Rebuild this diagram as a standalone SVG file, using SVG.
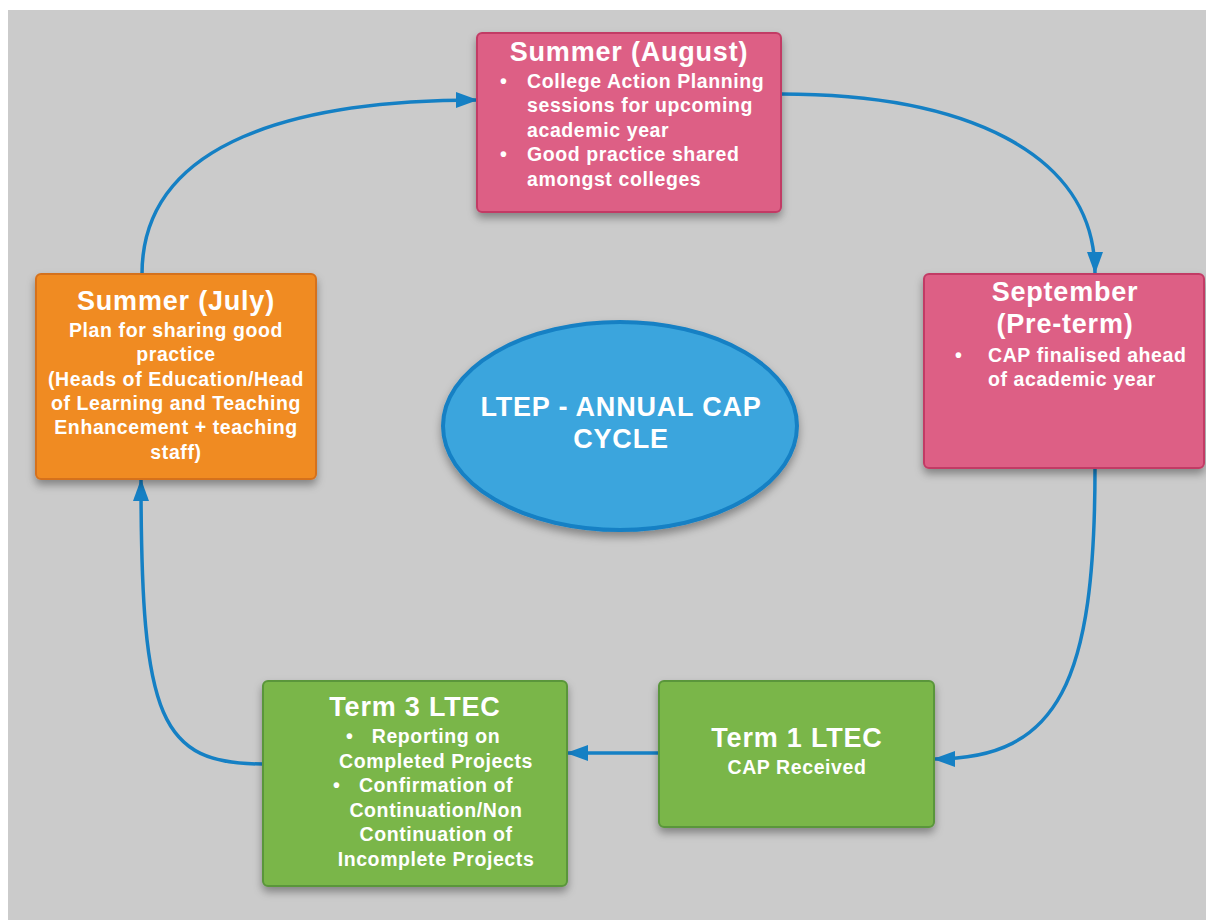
<svg xmlns="http://www.w3.org/2000/svg" width="1206" height="920" viewBox="0 0 1206 920">
<defs>
<filter id="sh" x="-10%" y="-10%" width="120%" height="130%">
<feDropShadow dx="0" dy="5" stdDeviation="4" flood-color="#000" flood-opacity="0.35"/>
</filter>
<marker id="ah" viewBox="0 0 22 16" refX="21" refY="8" markerWidth="22" markerHeight="16" markerUnits="userSpaceOnUse" orient="auto">
<path d="M0,0 L22,8 L0,16 Z" fill="#1580c4"/>
</marker>
<style>
.t{font-family:"Liberation Sans",Arial,sans-serif;font-weight:bold;fill:#fff;}
.h{font-size:27px;letter-spacing:0.8px;}
.b{font-size:19.5px;letter-spacing:0.6px;}
.c{text-anchor:middle;}
.pink{fill:#dd5e85;stroke:#c23b65;stroke-width:2;}
.orange{fill:#f08b23;stroke:#d5711c;stroke-width:2;}
.green{fill:#7ab648;stroke:#5a963a;stroke-width:2;}
.conn{fill:none;stroke:#1580c4;stroke-width:3.5;marker-end:url(#ah);}
</style>
</defs>
<rect x="0" y="0" width="1206" height="920" fill="#ffffff"/>
<rect x="8" y="10" width="1198" height="910" fill="#cbcbcb"/>

<g id="connectors">
<path class="conn" d="M142,274 C142,140 300,100 477,100"/>
<path class="conn" d="M781,94 C960,94 1095,150 1095,273"/>
<path class="conn" d="M1095,468 C1095,680 1060,759 934,759"/>
<path class="conn" d="M659,753 L567,753"/>
<path class="conn" d="M263,764 C160,764 141,720 141,480"/>
</g>

<g id="summer-august">
<rect class="pink" x="477" y="33" width="304" height="179" rx="5" filter="url(#sh)"/>
<text class="t h c" x="629" y="61">Summer (August)</text>
<text class="t b" x="500" y="88">•</text>
<text class="t b" x="527" y="88">College Action Planning</text>
<text class="t b" x="527" y="112">sessions for upcoming</text>
<text class="t b" x="527" y="137">academic year</text>
<text class="t b" x="500" y="161">•</text>
<text class="t b" x="527" y="161">Good practice shared</text>
<text class="t b" x="527" y="186">amongst colleges</text>
</g>

<g id="september">
<rect class="pink" x="924" y="274" width="280" height="194" rx="5" filter="url(#sh)"/>
<text class="t h c" x="1065" y="301">September</text>
<text class="t h c" x="1065" y="333">(Pre-term)</text>
<text class="t b" x="955" y="362">•</text>
<text class="t b" x="988" y="362">CAP finalised ahead</text>
<text class="t b" x="988" y="386">of academic year</text>
</g>

<g id="summer-july">
<rect class="orange" x="36" y="274" width="280" height="205" rx="5" filter="url(#sh)"/>
<text class="t h c" x="176" y="310">Summer (July)</text>
<text class="t b c" x="176" y="337">Plan for sharing good</text>
<text class="t b c" x="176" y="361">practice</text>
<text class="t b c" x="176" y="386">(Heads of Education/Head</text>
<text class="t b c" x="176" y="410">of Learning and Teaching</text>
<text class="t b c" x="176" y="434">Enhancement + teaching</text>
<text class="t b c" x="176" y="459">staff)</text>
</g>

<g id="term3">
<rect class="green" x="263" y="681" width="304" height="205" rx="5" filter="url(#sh)"/>
<text class="t h c" x="415" y="716">Term 3 LTEC</text>
<text class="t b" x="346" y="743">•</text>
<text class="t b c" x="436" y="743">Reporting on</text>
<text class="t b c" x="436" y="768">Completed Projects</text>
<text class="t b" x="333" y="792">•</text>
<text class="t b c" x="436" y="792">Confirmation of</text>
<text class="t b c" x="436" y="817">Continuation/Non</text>
<text class="t b c" x="436" y="841">Continuation of</text>
<text class="t b c" x="436" y="866">Incomplete Projects</text>
</g>

<g id="term1">
<rect class="green" x="659" y="681" width="275" height="146" rx="5" filter="url(#sh)"/>
<text class="t h c" x="797" y="747">Term 1 LTEC</text>
<text class="t b c" x="797" y="774">CAP Received</text>
</g>

<g id="center">
<ellipse cx="620" cy="426" rx="177" ry="104" fill="#3aa5dd" stroke="#1580c4" stroke-width="4" filter="url(#sh)"/>
<text class="t h c" x="621" y="416">LTEP - ANNUAL CAP</text>
<text class="t h c" x="621" y="448">CYCLE</text>
</g>
</svg>
